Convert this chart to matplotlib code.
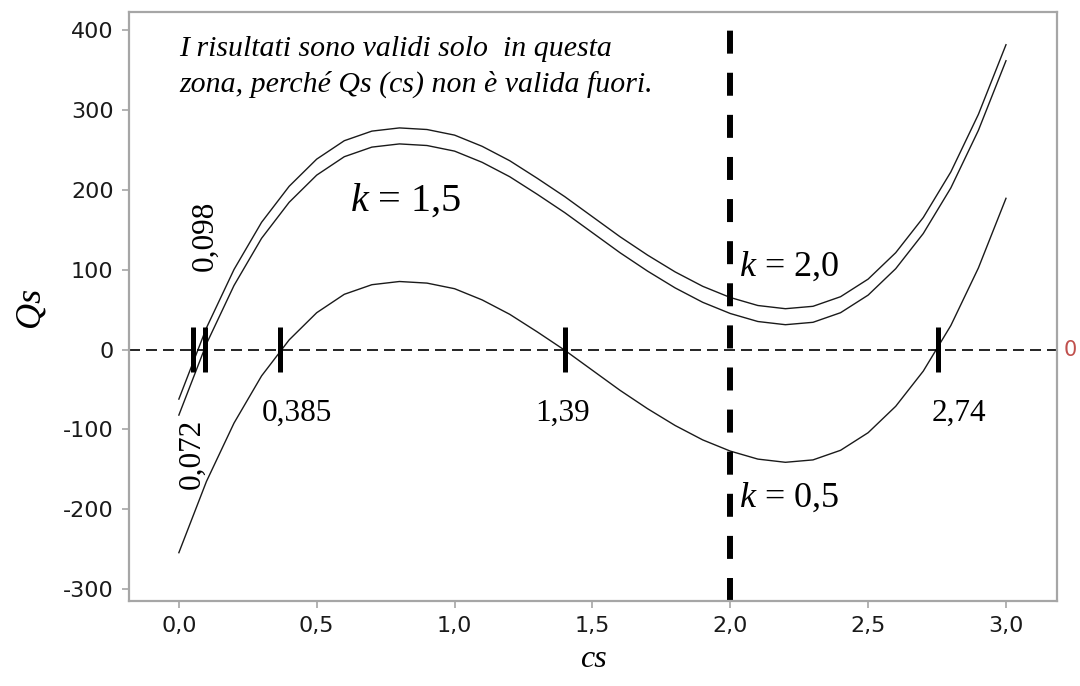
import matplotlib
matplotlib.use("Agg")
import matplotlib.pyplot as plt

plt.rcParams["mathtext.fontset"] = "custom"
plt.rcParams["mathtext.it"] = "Liberation Serif:italic"
plt.rcParams["mathtext.rm"] = "Liberation Serif"

# values
cs = [0.0, 0.1, 0.2, 0.3, 0.4, 0.5, 0.6, 0.7, 0.8, 0.9, 1.0,
      1.1, 1.2, 1.3, 1.4, 1.5, 1.6, 1.7, 1.8, 1.9, 2.0,
      2.1, 2.2, 2.3, 2.4, 2.5, 2.6, 2.7, 2.8, 2.9, 3.0]
qs_k05 = [-254, -165, -92, -33, 12, 46, 69, 81, 85, 83, 76,
          62, 44, 22, -1, -26, -51, -74, -95, -113, -127,
          -137, -141, -138, -126, -104, -71, -27, 30, 102, 189]
qs_k15 = [-82, 7, 80, 139, 184, 218, 241, 253, 257, 255, 248,
          234, 216, 194, 171, 146, 121, 98, 77, 59, 45,
          35, 31, 34, 46, 68, 101, 145, 202, 274, 361]
qs_k20 = [-62, 27, 100, 159, 204, 238, 261, 273, 277, 275, 268,
          254, 236, 214, 191, 166, 141, 118, 97, 79, 65,
          55, 51, 54, 66, 88, 121, 165, 222, 294, 381]

roots = [0.05, 0.094, 0.366, 1.399, 2.754]
root_labels = ["0,385", "1,39", "2,74"]
root_label_x = [0.43, 1.39, 2.83]
limit_cs = 2.0

xticks = [0.0, 0.5, 1.0, 1.5, 2.0, 2.5, 3.0]
yticks = [-300, -200, -100, 0, 100, 200, 300, 400]

serif = ["Liberation Serif", "DejaVu Serif"]
gray = "#a6a6a6"

fig = plt.figure(figsize=(10.8, 6.86), dpi=100)
ax = fig.add_axes([0.1194, 0.1239, 0.8593, 0.8586])

for q in (qs_k05, qs_k15, qs_k20):
    ax.plot(cs, q, color="#1a1a1a", lw=1.0)

ax.axhline(0, color="black", lw=1.2, dashes=(6.6, 3.6))
ax.axvline(limit_cs, color="black", lw=4.3, dashes=(3.85, 3.2))
ax.vlines(roots, -28, 28, color="black", lw=3.6)

ax.set_xlim(-0.181, 3.185)
ax.set_ylim(-314.4, 421.9)
ax.set_xticks(xticks)
ax.set_xticklabels([f"{t:.1f}".replace(".", ",") for t in xticks])
ax.set_yticks(yticks)
ax.set_yticklabels([str(t) for t in yticks])
ax.tick_params(colors=gray, labelcolor="#1a1a1a", labelsize=16, length=5,
               width=1.2, pad=6)
for s in ax.spines.values():
    s.set_color(gray)
    s.set_linewidth(1.6)

ax.set_xlabel("cs", family=serif, style="italic", fontsize=23, labelpad=6)
ax.set_ylabel("Qs", family=serif, style="italic", fontsize=26, labelpad=12)

ax.text(0.0, 392, "I risultati sono validi solo  in questa\nzona, perché Qs (cs) non è valida fuori.",
        family=serif, style="italic", fontsize=21.5, va="top", ha="left",
        linespacing=1.4)

for lx, lab in zip(root_label_x, root_labels):
    ax.text(lx, -80, lab, family=serif, fontsize=22.5, ha="center", va="center")
ax.text(0.095, 142, "0,098", family=serif, fontsize=22.5, rotation=90,
        ha="center", va="center")
ax.text(0.047, -130, "0,072", family=serif, fontsize=22.5, rotation=90,
        ha="center", va="center")

ax.text(0.62, 186, r"$k$ = 1,5", family=serif, fontsize=29, ha="left", va="center")
ax.text(2.03, 103, r"$k$ = 2,0", family=serif, fontsize=26, ha="left", va="center")
ax.text(2.03, -185, r"$k$ = 0,5", family=serif, fontsize=26, ha="left", va="center")

ax.text(1.007, 0, "0", transform=ax.get_yaxis_transform(), color="#c0504d",
        fontsize=15, ha="left", va="center")

fig.savefig("out.png", dpi=100)
